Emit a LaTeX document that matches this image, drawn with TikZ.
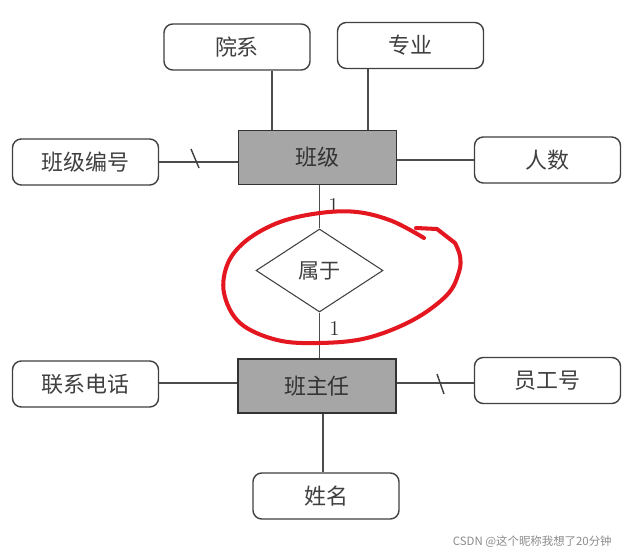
\documentclass[tikz,border=0pt]{standalone}
\usepackage{fontspec}
\newfontfamily\cjk{Noto Sans CJK SC}
\usetikzlibrary{shapes.geometric}
\definecolor{penred}{RGB}{228,22,32}
\begin{document}
\begin{tikzpicture}[x=0.02cm,y=-0.02cm,
  attr/.style={draw=black!75,line width=0.8pt,rounded corners=5pt,fill=white,
    minimum width={146*0.02cm},minimum height={46*0.02cm},inner sep=0pt,
    font=\cjk\fontsize{12.5}{14}\selectfont,text=black!75},
  ent/.style={draw=black!80,line width=1pt,fill=black!35,
    minimum width={158*0.02cm},minimum height={54*0.02cm},inner sep=0pt,
    font=\cjk\fontsize{12.5}{14}\selectfont,text=black!80},
  rel/.style={diamond,draw=black!75,line width=0.6pt,fill=white,
    minimum width={127*0.02cm},minimum height={83*0.02cm},inner sep=0pt,
    font=\cjk\fontsize{12}{14}\selectfont,text=black!75},
  conn/.style={draw=black!70,line width=0.8pt},
  card/.style={font=\fontsize{12}{14}\selectfont,text=black!80,inner sep=0pt}]
\useasboundingbox (0,0) rectangle (627,557);
\fill[white] (0,0) rectangle (627,557);
% entities
\node[ent] (bj) at (317.5,157.5) {班级};
\node[ent] (bzr) at (317,386) {班主任};
% relationship
\node[rel] (sy) at (319.5,270.5) {属于};
% attributes
\node[attr] (yx) at (237,47) {院系};
\node[attr] (zy) at (410.5,45.5) {专业};
\node[attr] (bjbh) at (85.5,162) {班级编号};
\node[attr] (rs) at (547.5,160) {人数};
\node[attr] (lxdh) at (85.5,384) {联系电话};
\node[attr] (ygh) at (547.5,380.5) {员工号};
\node[attr] (xm) at (326,496) {姓名};
% connectors
\draw[conn] (yx.south -| 272,0) -- (bj.north -| 272,0);
\draw[conn] (zy.south -| 368,0) -- (bj.north -| 368,0);
\draw[conn] (bjbh.east) -- (bjbh.east -| bj.west);
\draw[conn] (bj.east |- rs.west) -- (rs.west);
\draw[conn] (bj.south -| sy.north) -- (sy.north);
\draw[conn] (sy.south) -- (bzr.north -| sy.south);
\draw[conn] (lxdh.east |- 0,383) -- (bzr.west |- 0,383);
\draw[conn] (bzr.east |- 0,383) -- (ygh.west |- 0,383);
\draw[conn] (bzr.south -| 323,0) -- (xm.north -| 323,0);
% key marks
\draw[black!75,line width=0.8pt] (191,149) -- (199,168);
\draw[black!75,line width=0.8pt] (437,374) -- (444,394);
% cardinalities
\node[card] (c1) at (333.5,205) {1};
\node[card] (c2) at (334.5,328) {1};
% red hand-drawn mark
\draw[penred,line width=2.3pt,line cap=round,line join=round]
  (416,228) -- (437,229) -- (455,243)
  plot[smooth,tension=0.6] coordinates {(455,243) (460,256) (459,272)
  (447,295) (413,320) (367,338) (320,343) (277,340) (240,323) (224,293) (228,263)
  (247,240) (280,222) (320,213) (357,212) (392,221) (424,238)};
% watermark
\node[font=\cjk\fontsize{6.5}{8}\selectfont,text=black!45,anchor=east,inner sep=0pt] (wm) at (612,542) {CSDN @这个昵称我想了20分钟};
\end{tikzpicture}
\end{document}
